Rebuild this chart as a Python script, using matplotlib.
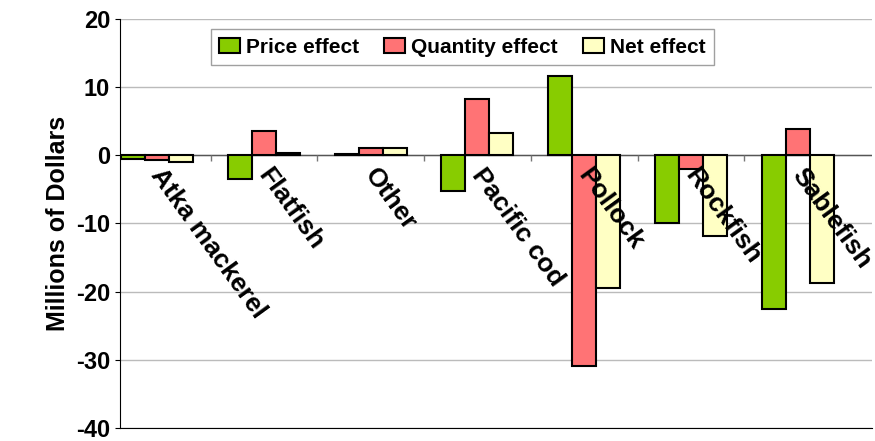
import numpy as np
import matplotlib.pyplot as plt

plt.rcParams['font.family'] = ['Liberation Sans', 'DejaVu Sans']
plt.rcParams['axes.unicode_minus'] = False

categories = ["Atka mackerel", "Flatfish", "Other", "Pacific cod", "Pollock", "Rockfish", "Sablefish"]
price = [-0.5, -3.5, 0.2, -5.2, 11.6, -10.0, -22.5]
quantity = [-0.7, 3.6, 1.0, 8.3, -31.0, -2.0, 3.8]
net = [-1.0, 0.3, 1.0, 3.2, -19.5, -11.8, -18.8]

fig = plt.figure(figsize=(8.75, 4.41), dpi=100)
ax = fig.add_axes([0.137, 0.03, 0.86, 0.927])

x = np.arange(len(categories))
w = 0.225
ax.bar(x - w, price, w, color="#88cc00", edgecolor="black", lw=1.5, label="Price effect", zorder=3)
ax.bar(x, quantity, w, color="#ff7375", edgecolor="black", lw=1.5, label="Quantity effect", zorder=3)
ax.bar(x + w, net, w, color="#ffffc4", edgecolor="black", lw=1.5, label="Net effect", zorder=3)

ax.axhline(0, color="#555555", lw=1, zorder=2)
ax.vlines(x[:-1] + 0.5, -0.9, 0, color="#777777", lw=1, zorder=2)
ax.set_xlim(-0.35, 6.7)
ax.set_ylim(-40, 20)
ax.set_yticks(range(-40, 21, 10))
ax.yaxis.grid(True, color="#bbbbbb", lw=1)
ax.set_axisbelow(True)
ax.set_xticks([])
ax.tick_params(axis="y", labelsize=17, direction="out")
for t in ax.get_yticklabels():
    t.set_fontweight("bold")
ax.set_ylabel("Millions of Dollars", fontsize=18, fontweight="bold")
ax.spines["top"].set_visible(False)
ax.spines["right"].set_visible(False)

for i, c in enumerate(categories):
    ax.text(i + 0.08, -1.3, c, rotation=-54, rotation_mode="anchor",
            ha="left", va="top", fontsize=19, fontweight="bold", zorder=5)

leg = ax.legend(loc="upper center", ncol=3, bbox_to_anchor=(0.455, 1.0),
                prop={"size": 15, "weight": "bold"}, frameon=True, fancybox=False,
                edgecolor="#888888", handlelength=1.0, columnspacing=1.2, handletextpad=0.3)
leg.get_frame().set_linewidth(1)
leg.set_zorder(6)

fig.savefig("out.png", dpi=100)
